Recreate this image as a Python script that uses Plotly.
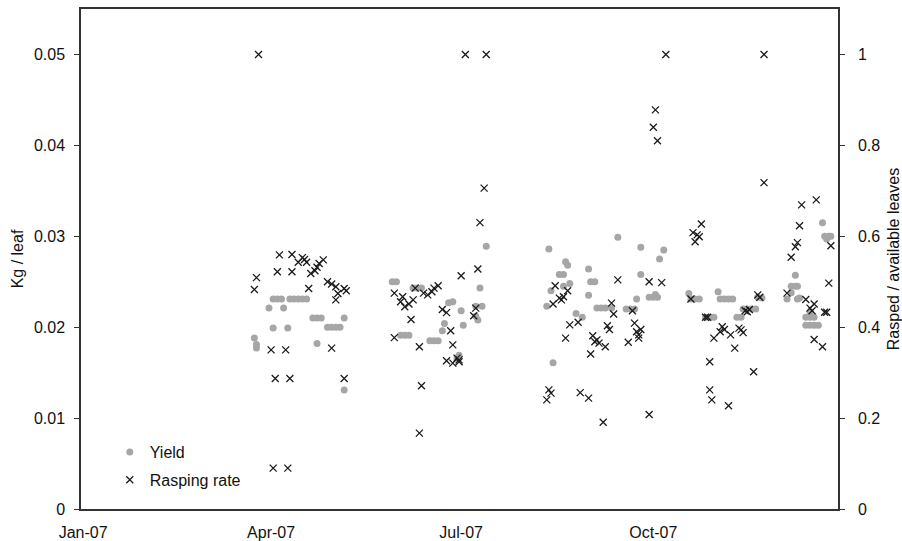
import pandas as pd
import plotly.graph_objects as go

# ---- data (day of year 2007, value) ----
yield_doy = [92, 94, 96, 100, 102, 104, 106, 108, 90, 97, 111, 113, 115, 126,
             118, 120, 122, 124, 92, 99, 83, 84, 84, 113, 126,
             149, 151, 159, 161, 163, 153, 155, 157, 167, 169, 171,
             173, 174, 176, 178, 180, 181, 182, 183, 189, 190, 189, 192, 191, 194,
             224, 223, 225, 226, 229, 231, 231, 232, 233, 234, 237, 240,
             243, 243, 244, 246, 247, 249, 251, 254, 257, 261, 263, 265,
             266, 268, 268, 272, 274, 276, 275, 277, 279,
             291, 292, 294, 296, 299, 301, 303, 305, 306, 308, 310, 312,
             314, 316, 317, 319, 321, 323, 324, 326,
             338, 340, 340, 342, 343, 342, 343, 344, 347, 349, 351,
             347, 349, 351, 353, 349, 355, 356, 357, 358, 359]
yield_kg = [0.0231, 0.0231, 0.0231, 0.0231, 0.0231, 0.0231, 0.0231, 0.0231, 0.0221, 0.0221,
            0.0210, 0.0210, 0.0210, 0.0210, 0.0200, 0.0200, 0.0200, 0.0200, 0.0199, 0.0199,
            0.0188, 0.0181, 0.0177, 0.0182, 0.0131,
            0.0250, 0.0250, 0.0243, 0.0243, 0.0243, 0.0191, 0.0191, 0.0191, 0.0185, 0.0185, 0.0185,
            0.0196, 0.0204, 0.0227, 0.0228, 0.0166, 0.0169, 0.0218, 0.0202, 0.0212, 0.0208,
            0.0223, 0.0223, 0.0243, 0.0289,
            0.0286, 0.0223, 0.0240, 0.0161, 0.0258, 0.0258, 0.0245, 0.0272, 0.0268, 0.0248,
            0.0215, 0.0211, 0.0264, 0.0235, 0.0250, 0.0250, 0.0221, 0.0221, 0.0221, 0.0221,
            0.0299, 0.0220, 0.0220, 0.0220, 0.0231, 0.0258, 0.0288, 0.0233, 0.0233, 0.0233,
            0.0236, 0.0275, 0.0285,
            0.0237, 0.0231, 0.0231, 0.0231, 0.0211, 0.0211, 0.0211, 0.0239, 0.0231, 0.0231,
            0.0231, 0.0231, 0.0211, 0.0211, 0.0220, 0.0220, 0.0220, 0.0220, 0.0233, 0.0232,
            0.0231, 0.0238, 0.0245, 0.0245, 0.0245, 0.0257, 0.0231, 0.0232, 0.0211, 0.0211,
            0.0211, 0.0202, 0.0202, 0.0202, 0.0202, 0.0217, 0.0315, 0.0300, 0.0297, 0.0300, 0.0300]

rasp_doy = [85, 95, 101, 106, 107, 104, 108, 116, 114, 113, 112, 110, 94, 101, 84, 83, 109,
            118, 120, 122, 126, 127, 123, 122, 91, 98, 120, 93, 100, 126, 92, 99,
            184, 194, 193, 191, 190, 182, 150, 154, 153, 157, 159, 155, 160, 164, 168, 169,
            171, 166, 158, 150, 162, 173, 175, 189, 188, 177, 178, 175, 178, 181, 181, 180,
            163, 162,
            227, 233, 226, 229, 231, 230, 234, 238, 232, 223, 224, 225, 239, 243, 250,
            257, 254, 255, 252, 253, 245, 247, 248, 251, 246, 244, 262, 264, 265, 266,
            268, 267, 267, 272, 278, 280, 275, 274, 276, 272,
            292, 293, 295, 296, 294, 297, 299, 300, 301, 301, 302, 310, 307, 308, 306,
            311, 303, 315, 316, 317, 313, 322, 324, 325, 318, 320, 319, 327, 327,
            338, 340, 342, 343, 344, 345, 352, 347, 351, 349, 350, 359, 358, 356, 357, 351, 355]
rasp_rate = [1.0, 0.559, 0.560, 0.553, 0.549, 0.543, 0.543, 0.548, 0.540, 0.532, 0.524, 0.518,
             0.522, 0.522, 0.509, 0.483, 0.485, 0.500, 0.495, 0.489, 0.485, 0.480, 0.474, 0.460,
             0.350, 0.350, 0.354, 0.287, 0.287, 0.287, 0.090, 0.090,
             1.0, 1.0, 0.706, 0.630, 0.528, 0.513, 0.475, 0.467, 0.456, 0.451, 0.460, 0.445,
             0.486, 0.475, 0.478, 0.486, 0.491, 0.471, 0.417, 0.377, 0.357, 0.439, 0.432,
             0.442, 0.425, 0.392, 0.361, 0.326, 0.321, 0.328, 0.324, 0.332, 0.271, 0.167,
             0.491, 0.480, 0.451, 0.464, 0.467, 0.460, 0.405, 0.411, 0.376, 0.240, 0.262,
             0.255, 0.256, 0.244, 0.191, 0.504, 0.453, 0.429, 0.403, 0.395, 0.381, 0.372,
             0.365, 0.357, 0.368, 0.341, 0.367, 0.436, 0.409, 0.390, 0.395, 0.376, 0.383,
             0.500, 0.498, 1.0, 0.878, 0.840, 0.810, 0.208,
             0.462, 0.608, 0.603, 0.599, 0.588, 0.627, 0.422, 0.422, 0.324, 0.262, 0.240,
             0.227, 0.401, 0.395, 0.390, 0.383, 0.376, 0.398, 0.394, 0.388, 0.354, 0.302,
             0.471, 0.466, 0.436, 0.439, 0.434, 0.718, 1.0,
             0.475, 0.554, 0.577, 0.586, 0.623, 0.669, 0.680, 0.461, 0.451, 0.442, 0.436,
             0.579, 0.497, 0.433, 0.433, 0.373, 0.357]

tick_dates = ["2007-01-01", "2007-04-01", "2007-07-01", "2007-10-01"]
tick_text = ["Jan-07", "Apr-07", "Jul-07", "Oct-07"]

base = pd.Timestamp("2006-12-31")
yield_dates = base + pd.to_timedelta(yield_doy, unit="D")
rasp_dates = base + pd.to_timedelta(rasp_doy, unit="D")

FONT = "Liberation Sans, Arial, sans-serif"
AX = "#333333"

fig = go.Figure()
fig.add_trace(go.Scatter(
    x=yield_dates, y=yield_kg, mode="markers", name="Yield", legendgroup="a",
    marker=dict(color="#a6a6a6", size=7, line=dict(width=0)),
    yaxis="y"))
fig.add_trace(go.Scatter(
    x=rasp_dates, y=rasp_rate, mode="markers", name="Rasping rate", legendgroup="b",
    marker=dict(symbol="x-thin", size=7, line=dict(width=1.3, color="#1a1a1a"),
                color="#1a1a1a"),
    yaxis="y2"))

fig.update_layout(
    width=902, height=541,
    margin=dict(l=81, r=64, t=9, b=32),
    paper_bgcolor="white", plot_bgcolor="white",
    font=dict(family=FONT, size=16, color="#111111"),
    showlegend=True,
    legend=dict(x=0.038, y=0.024, xanchor="left", yanchor="bottom",
                bgcolor="rgba(0,0,0,0)", font=dict(size=16),
                itemwidth=30, traceorder="grouped", tracegroupgap=4),
    xaxis=dict(range=["2006-12-31", "2007-12-28 10:00"], tickvals=tick_dates,
               ticktext=tick_text, showgrid=False, zeroline=False,
               showline=True, linecolor=AX, linewidth=1.5, mirror=True,
               ticks="", ticklabelstandoff=8, automargin=False),
    yaxis=dict(range=[0, 0.055], tickvals=[0, 0.01, 0.02, 0.03, 0.04, 0.05],
               ticktext=["0", "0.01", "0.02", "0.03", "0.04", "0.05"],
               showgrid=False, zeroline=False, showline=True, linecolor=AX,
               linewidth=1.5, ticks="outside", ticklen=5, tickcolor=AX,
               ticklabelstandoff=6, automargin=False,
               title=dict(text="Kg / leaf", standoff=6, font=dict(size=16))),
    yaxis2=dict(range=[0, 1.1], tickvals=[0, 0.2, 0.4, 0.6, 0.8, 1.0],
                ticktext=["0", "0.2", "0.4", "0.6", "0.8", "1"],
                overlaying="y", side="right", showgrid=False, zeroline=False,
                showline=True, linecolor=AX, linewidth=1.5, ticks="outside",
                ticklen=5, tickcolor=AX, ticklabelstandoff=10, automargin=False,
                title=dict(text="Rasped / available leaves", standoff=10,
                           font=dict(size=16))),
)

fig.write_html("out.html")
